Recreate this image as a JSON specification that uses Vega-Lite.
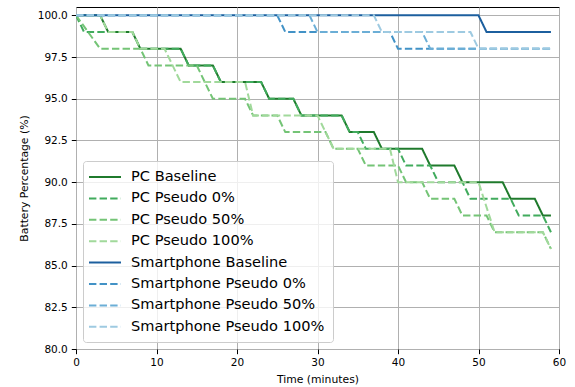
{
  "$schema": "https://vega.github.io/schema/vega-lite/v6.json",
  "width": 483,
  "height": 342,
  "autosize": {"type": "none"},
  "padding": {"left": 76, "top": 7, "right": 16, "bottom": 38},
  "config": {
    "font": "DejaVu Sans",
    "view": {"stroke": "#000000", "strokeWidth": 1},
    "axis": {
      "domain": false,
      "grid": true,
      "gridColor": "#b0b0b0",
      "gridWidth": 1,
      "tickColor": "#000000",
      "tickWidth": 1,
      "tickSize": 4.7,
      "labelFlush": false,
      "labelColor": "#000000",
      "labelFont": "DejaVu Sans",
      "labelFontSize": 10.5,
      "titleColor": "#000000",
      "titleFont": "DejaVu Sans",
      "titleFontSize": 10.8,
      "titleFontWeight": "normal"
    },
    "legend": {
      "title": null, "orient": "none", "legendX": 7, "legendY": 154,
      "symbolType": "M-1.43,0H3.14", "symbolSize": 196, "symbolStrokeWidth": 2,
      "labelFontSize": 14.6, "labelFont": "DejaVu Sans", "labelColor": "#000000", "labelLimit": 400,
      "rowPadding": 6.4, "labelOffset": 24, "padding": 8,
      "fillColor": "rgba(255,255,255,0.8)", "strokeColor": "#cccccc", "cornerRadius": 3
    }
  },
  "data": {
    "values": [
      {"s": "PC Baseline", "t": 0, "v": 100}, {"s": "PC Baseline", "t": 3, "v": 100}, {"s": "PC Baseline", "t": 4, "v": 99}, {"s": "PC Baseline", "t": 7, "v": 99}, {"s": "PC Baseline", "t": 8, "v": 98}, {"s": "PC Baseline", "t": 13, "v": 98}, {"s": "PC Baseline", "t": 14, "v": 97}, {"s": "PC Baseline", "t": 17, "v": 97}, {"s": "PC Baseline", "t": 18, "v": 96}, {"s": "PC Baseline", "t": 23, "v": 96}, {"s": "PC Baseline", "t": 24, "v": 95}, {"s": "PC Baseline", "t": 27, "v": 95}, {"s": "PC Baseline", "t": 28, "v": 94}, {"s": "PC Baseline", "t": 33, "v": 94}, {"s": "PC Baseline", "t": 34, "v": 93}, {"s": "PC Baseline", "t": 37, "v": 93}, {"s": "PC Baseline", "t": 38, "v": 92}, {"s": "PC Baseline", "t": 43, "v": 92}, {"s": "PC Baseline", "t": 44, "v": 91}, {"s": "PC Baseline", "t": 47, "v": 91}, {"s": "PC Baseline", "t": 48, "v": 90}, {"s": "PC Baseline", "t": 53, "v": 90}, {"s": "PC Baseline", "t": 54, "v": 89}, {"s": "PC Baseline", "t": 57, "v": 89}, {"s": "PC Baseline", "t": 58, "v": 88}, {"s": "PC Baseline", "t": 59, "v": 88},

      {"s": "PC Pseudo 0%", "t": 0, "v": 100}, {"s": "PC Pseudo 0%", "t": 1, "v": 99}, {"s": "PC Pseudo 0%", "t": 7, "v": 99}, {"s": "PC Pseudo 0%", "t": 8, "v": 98}, {"s": "PC Pseudo 0%", "t": 13, "v": 98}, {"s": "PC Pseudo 0%", "t": 14, "v": 97}, {"s": "PC Pseudo 0%", "t": 17, "v": 97}, {"s": "PC Pseudo 0%", "t": 18, "v": 96}, {"s": "PC Pseudo 0%", "t": 23, "v": 96}, {"s": "PC Pseudo 0%", "t": 24, "v": 95}, {"s": "PC Pseudo 0%", "t": 27, "v": 95}, {"s": "PC Pseudo 0%", "t": 28, "v": 94}, {"s": "PC Pseudo 0%", "t": 33, "v": 94}, {"s": "PC Pseudo 0%", "t": 34, "v": 93}, {"s": "PC Pseudo 0%", "t": 35, "v": 93}, {"s": "PC Pseudo 0%", "t": 36, "v": 92}, {"s": "PC Pseudo 0%", "t": 40, "v": 92}, {"s": "PC Pseudo 0%", "t": 41, "v": 91}, {"s": "PC Pseudo 0%", "t": 44, "v": 91}, {"s": "PC Pseudo 0%", "t": 45, "v": 90}, {"s": "PC Pseudo 0%", "t": 48, "v": 90}, {"s": "PC Pseudo 0%", "t": 49, "v": 89}, {"s": "PC Pseudo 0%", "t": 54, "v": 89}, {"s": "PC Pseudo 0%", "t": 55, "v": 88}, {"s": "PC Pseudo 0%", "t": 58, "v": 88}, {"s": "PC Pseudo 0%", "t": 59, "v": 87},

      {"s": "PC Pseudo 50%", "t": 0, "v": 100}, {"s": "PC Pseudo 50%", "t": 3, "v": 98}, {"s": "PC Pseudo 50%", "t": 8, "v": 98}, {"s": "PC Pseudo 50%", "t": 9, "v": 97}, {"s": "PC Pseudo 50%", "t": 15, "v": 97}, {"s": "PC Pseudo 50%", "t": 17, "v": 95}, {"s": "PC Pseudo 50%", "t": 21, "v": 95}, {"s": "PC Pseudo 50%", "t": 22, "v": 94}, {"s": "PC Pseudo 50%", "t": 25, "v": 94}, {"s": "PC Pseudo 50%", "t": 26, "v": 93}, {"s": "PC Pseudo 50%", "t": 31, "v": 93}, {"s": "PC Pseudo 50%", "t": 32, "v": 92}, {"s": "PC Pseudo 50%", "t": 35, "v": 92}, {"s": "PC Pseudo 50%", "t": 36, "v": 91}, {"s": "PC Pseudo 50%", "t": 40, "v": 91}, {"s": "PC Pseudo 50%", "t": 41, "v": 90}, {"s": "PC Pseudo 50%", "t": 43, "v": 90}, {"s": "PC Pseudo 50%", "t": 44, "v": 89}, {"s": "PC Pseudo 50%", "t": 47, "v": 89}, {"s": "PC Pseudo 50%", "t": 48, "v": 88}, {"s": "PC Pseudo 50%", "t": 51, "v": 88}, {"s": "PC Pseudo 50%", "t": 52, "v": 87}, {"s": "PC Pseudo 50%", "t": 58, "v": 87}, {"s": "PC Pseudo 50%", "t": 59, "v": 86},

      {"s": "PC Pseudo 100%", "t": 0, "v": 100}, {"s": "PC Pseudo 100%", "t": 3, "v": 100}, {"s": "PC Pseudo 100%", "t": 4, "v": 99}, {"s": "PC Pseudo 100%", "t": 7, "v": 99}, {"s": "PC Pseudo 100%", "t": 8, "v": 98}, {"s": "PC Pseudo 100%", "t": 11, "v": 98}, {"s": "PC Pseudo 100%", "t": 13, "v": 96}, {"s": "PC Pseudo 100%", "t": 21, "v": 96}, {"s": "PC Pseudo 100%", "t": 22, "v": 94}, {"s": "PC Pseudo 100%", "t": 30, "v": 94}, {"s": "PC Pseudo 100%", "t": 32, "v": 92}, {"s": "PC Pseudo 100%", "t": 39, "v": 92}, {"s": "PC Pseudo 100%", "t": 40, "v": 90}, {"s": "PC Pseudo 100%", "t": 50, "v": 90}, {"s": "PC Pseudo 100%", "t": 52, "v": 87}, {"s": "PC Pseudo 100%", "t": 58, "v": 87}, {"s": "PC Pseudo 100%", "t": 59, "v": 86},

      {"s": "Smartphone Baseline", "t": 0, "v": 100}, {"s": "Smartphone Baseline", "t": 50, "v": 100}, {"s": "Smartphone Baseline", "t": 51, "v": 99}, {"s": "Smartphone Baseline", "t": 59, "v": 99},
      {"s": "Smartphone Pseudo 0%", "t": 0, "v": 100}, {"s": "Smartphone Pseudo 0%", "t": 25, "v": 100}, {"s": "Smartphone Pseudo 0%", "t": 26, "v": 99}, {"s": "Smartphone Pseudo 0%", "t": 39, "v": 99}, {"s": "Smartphone Pseudo 0%", "t": 40, "v": 98}, {"s": "Smartphone Pseudo 0%", "t": 59, "v": 98},
      {"s": "Smartphone Pseudo 50%", "t": 0, "v": 100}, {"s": "Smartphone Pseudo 50%", "t": 29, "v": 100}, {"s": "Smartphone Pseudo 50%", "t": 30, "v": 99}, {"s": "Smartphone Pseudo 50%", "t": 43, "v": 99}, {"s": "Smartphone Pseudo 50%", "t": 44, "v": 98}, {"s": "Smartphone Pseudo 50%", "t": 59, "v": 98},
      {"s": "Smartphone Pseudo 100%", "t": 0, "v": 100}, {"s": "Smartphone Pseudo 100%", "t": 37, "v": 100}, {"s": "Smartphone Pseudo 100%", "t": 38, "v": 99}, {"s": "Smartphone Pseudo 100%", "t": 49, "v": 99}, {"s": "Smartphone Pseudo 100%", "t": 50, "v": 98}, {"s": "Smartphone Pseudo 100%", "t": 59, "v": 98}
    ]
  },
  "mark": {"type": "line", "strokeWidth": 2, "clip": true},
  "encoding": {
    "x": {
      "field": "t", "type": "quantitative",
      "scale": {"domain": [0, 60], "nice": false, "zero": false},
      "axis": {"values": [0, 10, 20, 30, 40, 50, 60], "title": "Time (minutes)", "labelPadding": 4, "titlePadding": 5}
    },
    "y": {
      "field": "v", "type": "quantitative",
      "scale": {"domain": [80, 100.5], "nice": false, "zero": false},
      "axis": {"values": [80, 82.5, 85, 87.5, 90, 92.5, 95, 97.5, 100], "format": ".1f", "title": "Battery Percentage (%)", "labelPadding": 4, "titlePadding": 8}
    },
    "color": {
      "field": "s", "type": "nominal",
      "scale": {
        "domain": ["PC Baseline", "PC Pseudo 0%", "PC Pseudo 50%", "PC Pseudo 100%", "Smartphone Baseline", "Smartphone Pseudo 0%", "Smartphone Pseudo 50%", "Smartphone Pseudo 100%"],
        "range": ["#1f7a2c", "#41ab5d", "#74c476", "#a1d99b", "#1c5f9e", "#4292c6", "#6baed6", "#9ecae1"]
      },
      "legend": {"title": null}
    },
    "strokeDash": {
      "field": "s", "type": "nominal",
      "scale": {
        "domain": ["PC Baseline", "PC Pseudo 0%", "PC Pseudo 50%", "PC Pseudo 100%", "Smartphone Baseline", "Smartphone Pseudo 0%", "Smartphone Pseudo 50%", "Smartphone Pseudo 100%"],
        "range": [[1, 0], [7.4, 3.2], [7.4, 3.2], [7.4, 3.2], [1, 0], [7.4, 3.2], [7.4, 3.2], [7.4, 3.2]]
      },
      "legend": {"title": null}
    }
  }
}
